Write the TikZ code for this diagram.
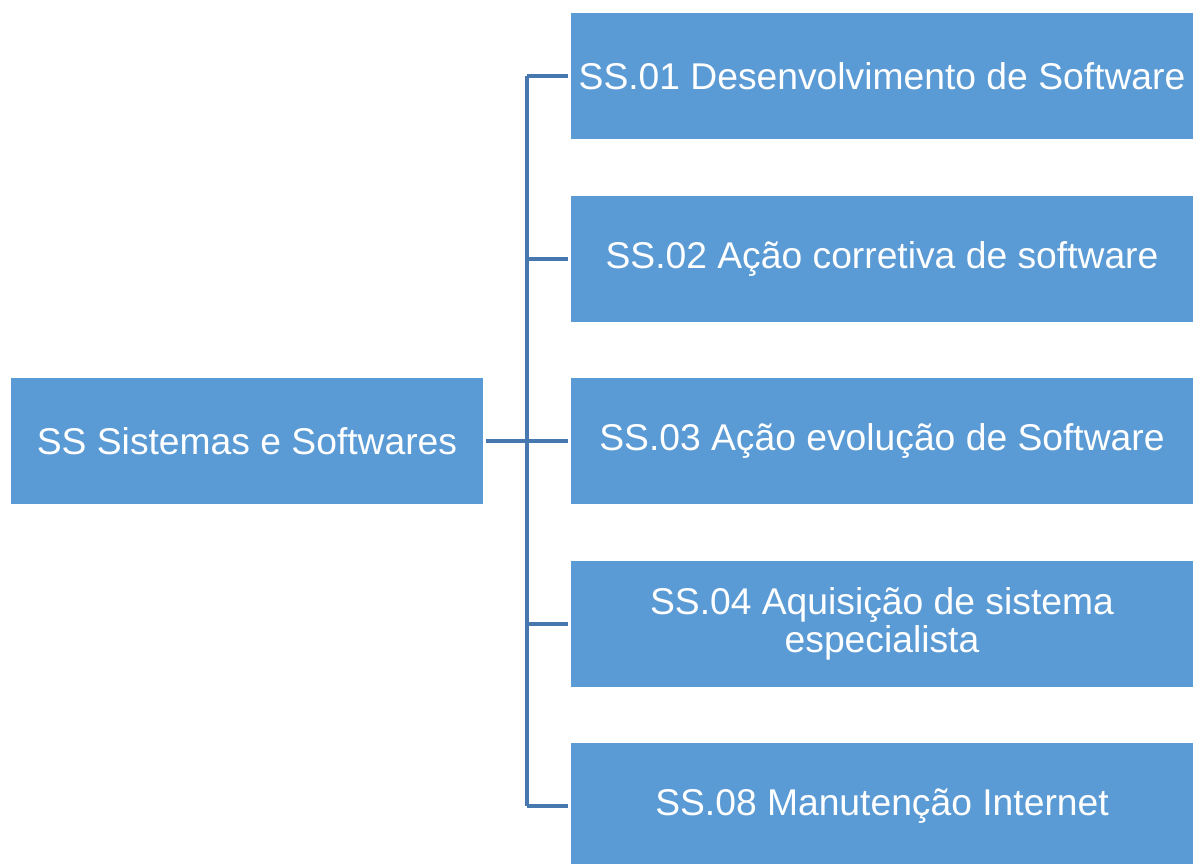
\documentclass[tikz,border=0pt]{standalone}
\usepackage{fontspec}
\setmainfont{Liberation Sans}
\usepackage{tikz}
\usetikzlibrary{positioning}
\definecolor{boxblue}{HTML}{5B9BD5}
\definecolor{lineblue}{HTML}{4677AE}
\tikzset{box/.style = {fill = boxblue, text = white, align = center, inner sep = 0,
    minimum height = 2.52cm, font = \fontsize{21.2}{22}\selectfont}}
\tikzset{kid/.style = {box, minimum width = 12.44cm}}
\tikzset{link/.style = {draw = lineblue, line width = 1.8pt}}

\begin{document}
\begin{tikzpicture}[x = 0.02cm, y = -0.02cm]
    \useasboundingbox (0, 0) rectangle (1193, 864);

    \node [box, minimum width = 9.44cm] (root) at (247, 441) {SS Sistemas e Softwares};

    \node [kid] (a) at (882, 76) {SS.01 Desenvolvimento de Software};
    \node [kid] (b) at (882, 259) {SS.02 Ação corretiva de software};
    \node [kid] (c) at (882, 441) {SS.03 Ação evolução de Software};
    \node [kid] (d) at (882, 624) {SS.04 Aquisição de sistema\\especialista};
    \node [kid] (e) at (882, 806) {SS.08 Manutenção Internet};

    \coordinate (spine) at (527, 441);
    \draw [link] ([xshift = 1.7pt] root.east) -- (spine);
    \draw [link] (spine |- a.west) -- (spine |- e.west);
    \foreach \n in {a, b, c, d, e}
      \draw [link] (spine |- \n.west) -- ([xshift = -1.7pt] \n.west);
  \end{tikzpicture}
\end{document}
